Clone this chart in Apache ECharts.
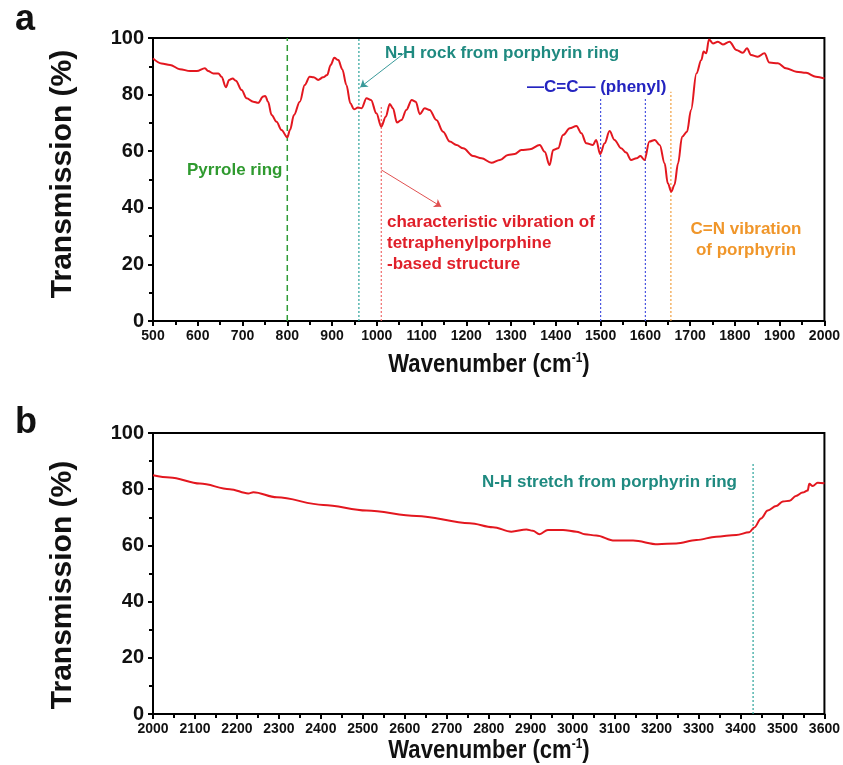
<!DOCTYPE html>
<html>
<head>
<meta charset="utf-8">
<script src="https://cdn.jsdelivr.net/npm/echarts@6/dist/echarts.min.js"></script>
<style>
  html, body { margin: 0; padding: 0; background: #fff; }
  #chart { width: 843px; height: 765px; }
</style>
</head>
<body>
<div id="chart"></div>
<script>
// panel a: FTIR 500-2000 cm-1
const waveA = [500, 519, 538, 560, 583, 598, 616, 623, 635, 646, 653, 663, 670, 678, 685, 698, 709, 724, 735, 746,
  751, 757, 765, 776, 787, 800, 806, 815, 828, 839, 850, 859, 869, 880, 889, 897, 905, 914, 923, 932,
  941, 949, 958, 966, 977, 987, 999, 1010, 1020, 1029, 1036, 1045, 1055, 1066, 1078, 1087, 1096, 1107, 1118, 1133,
  1148, 1163, 1178, 1193, 1215, 1234, 1256, 1275, 1293, 1308, 1323, 1342, 1364, 1375, 1386, 1394, 1405, 1416, 1431, 1446,
  1457, 1468, 1483, 1490, 1499, 1509, 1520, 1531, 1546, 1557, 1568, 1580, 1589, 1598, 1609, 1621, 1632, 1643, 1650, 1658,
  1665, 1673, 1682, 1693, 1702, 1714, 1725, 1730, 1736, 1742, 1751, 1762, 1773, 1788, 1803, 1818, 1827, 1836, 1851, 1866,
  1877, 1896, 1914, 1937, 1959, 1981, 2000];
const transA = [92.8, 91, 90.5, 89, 88.3, 88.3, 89.3, 88.3, 87.5, 87.5, 86.3, 82.6, 85.2, 85.7, 84.9, 81.6, 78.7, 77.5, 77.1, 79.3,
  79.5, 77.5, 72.8, 70.4, 67.5, 64.9, 67.5, 72.8, 77.5, 83.4, 86.3, 86.1, 85.2, 86.1, 86.9, 90.5, 93, 92.2, 88.9, 83.4,
  76.9, 74.8, 75.4, 75.2, 78.7, 78.1, 73.4, 68.7, 72.2, 76.7, 75.2, 70.1, 71, 74.6, 78.1, 77.5, 73.1, 75.2, 74.6, 71,
  66.9, 63.4, 62.2, 61, 58.3, 57.5, 55.9, 56.9, 58.7, 59, 60.4, 60.7, 62.2, 59.8, 55.1, 60.4, 61, 65.7, 68.1, 68.9,
  66.3, 62.8, 62.2, 64, 59, 62.8, 67.1, 64, 61, 59.5, 56.9, 57.5, 58.3, 56.9, 63.4, 64, 62.2, 55.7, 48.7, 45.7,
  48.1, 55.7, 65.1, 66.9, 74.6, 87.5, 92.2, 95.2, 94.6, 99.5, 98.1, 98.7, 97.7, 98.7, 95.8, 94.8, 96.4, 94, 93.4, 94.6,
  91.3, 91.1, 89.3, 88.1, 87.7, 86.3, 85.7];

// panel b: FTIR 2000-3600 cm-1
const waveB = [2000, 2040, 2112, 2183, 2227, 2239, 2295, 2406, 2509, 2628, 2755, 2810, 2854, 2890, 2905, 2921, 2941, 2977, 3009, 3029,
  3056, 3100, 3144, 3203, 3247, 3295, 3342, 3390, 3421, 3433, 3449, 3465, 3485, 3501, 3517, 3532, 3548, 3560, 3564, 3572,
  3584, 3600];
const transB = [85, 84.2, 82, 80, 78.5, 78.9, 77.1, 74.4, 72.4, 70.5, 67.9, 66.5, 64.9, 65.7, 65.2, 64, 65.5, 65.5, 64.9, 64,
  63.5, 61.7, 61.7, 60.4, 60.7, 61.9, 63.1, 63.7, 64.7, 66.4, 69.6, 72.4, 74, 75.6, 75.9, 77.6, 78.8, 79.5, 81.9, 81.1,
  82.3, 82.1];

// guide lines (wavenumber, top of line in %)
const guideWaveA = [800, 960, 1010, 1500, 1600, 1657];
const guideTopA = [100, 100, 76, 79, 79, 81];
const guideColorA = ['#2e9b36', '#2aa39a', '#f06a6a', '#4a55e0', '#4a55e0', '#f0a040'];
const guideWaveB = [3430];
const guideTopB = [89];
const guideColorB = ['#2aa39a'];

const yTicks = [0, 20, 40, 60, 80, 100];

const RED = '#e3171f';
const TEAL = '#1f8a80';

const chart = echarts.init(document.getElementById('chart'));

function pairs(xs, ys) { return xs.map((x, i) => [x, ys[i]]); }

// each guide line is its own tiny series so its colour is exact
function guideSeries(waves, tops, colors, axisIdx, firstDashed) {
  return waves.map((w, i) => {
    const dashed = firstDashed && i === 0;
    return {
      type: 'line', xAxisIndex: axisIdx, yAxisIndex: axisIdx, silent: true, z: 2,
      data: [[w, 0], [w, tops[i]]], showSymbol: false, symbol: 'none',
      lineStyle: { color: colors[i], width: dashed ? 1.5 : 1.2, type: dashed ? [6, 4] : [2, 2] }
    };
  });
}

const axisX = (idx, min, max) => ({
  type: 'value', gridIndex: idx, min: min, max: max, interval: 100,
  axisLine: { onZero: false, lineStyle: { color: '#000', width: 2 } },
  axisTick: { length: 5, lineStyle: { color: '#000', width: 2 } },
  minorTick: { show: true, splitNumber: 2, length: 4, lineStyle: { color: '#000', width: 2 } },
  splitLine: { show: false },
  axisLabel: { color: '#111', fontSize: 14, fontWeight: 'bold', fontFamily: 'Liberation Sans', margin: 8,
    formatter: v => String(v) }
});
const axisY = (idx) => ({
  type: 'value', gridIndex: idx, min: 0, max: 100, interval: 20,
  axisLine: { lineStyle: { color: '#000', width: 2 } },
  axisTick: { length: 5, lineStyle: { color: '#000', width: 2 } },
  minorTick: { show: true, splitNumber: 2, length: 4, lineStyle: { color: '#000', width: 2 } },
  splitLine: { show: false },
  axisLabel: { color: '#111', fontSize: 20, fontWeight: 'bold', fontFamily: 'Liberation Sans', margin: 9,
    formatter: v => yTicks.includes(v) ? String(v) : '' }
});

const txt = (x, y, text, color, extra) => ({
  type: 'text', x: x, y: y, silent: true,
  style: Object.assign({ text: text, fill: color, font: 'bold 17px "Liberation Sans", Arial', textVerticalAlign: 'middle' }, extra || {})
});

const xTitle = (y) => ({
  type: 'text', x: 489, y: y, scaleX: 0.85, silent: true,
  style: {
    text: 'Wavenumber (cm{sup|-1})', fill: '#111',
    font: 'bold 26px "Liberation Sans", Arial',
    textAlign: 'center', textVerticalAlign: 'middle',
    rich: { sup: { fontSize: 14, fontWeight: 'bold', fontFamily: 'Liberation Sans', padding: [0, 0, 13, 0] } }
  }
});
const yTitle = (y) => ({
  type: 'text', x: 63, y: y, rotation: Math.PI / 2, silent: true,
  style: { text: 'Transmission (%)', fill: '#111', font: 'bold 30px "Liberation Sans", Arial', textAlign: 'center', textVerticalAlign: 'middle' }
});

chart.setOption({
  animation: false,
  grid: [
    { left: 153, top: 38, right: 18, height: 283, show: true, borderColor: '#000', borderWidth: 2, backgroundColor: 'transparent' },
    { left: 153, top: 433, right: 18, height: 281, show: true, borderColor: '#000', borderWidth: 2, backgroundColor: 'transparent' }
  ],
  xAxis: [axisX(0, 500, 2000), axisX(1, 2000, 3600)],
  yAxis: [axisY(0), axisY(1)],
  series: [
    {
      type: 'line', xAxisIndex: 0, yAxisIndex: 0, data: pairs(waveA, transA),
      showSymbol: false, smooth: 0.35, smoothMonotone: 'x',
      lineStyle: { color: RED, width: 2 }, z: 3,
      markLine: {
        silent: true, symbol: ['none', 'none'], label: { show: false }, z: 2,
        data: [
          [{ coord: [1062, 94.7], lineStyle: { color: '#3a9a9a', width: 1, type: 'solid' } },
           { coord: [963, 82.6], symbol: 'arrow', symbolSize: 7 }],
          [{ coord: [1010, 53.4], lineStyle: { color: '#e05050', width: 1, type: 'solid' } },
           { coord: [1144, 40.4], symbol: 'arrow', symbolSize: 7 }]
        ]
      }
    },
    {
      type: 'line', xAxisIndex: 1, yAxisIndex: 1, data: pairs(waveB, transB),
      showSymbol: false, smooth: 0.35, smoothMonotone: 'x',
      lineStyle: { color: RED, width: 2 }, z: 3
    }
  ].concat(guideSeries(guideWaveA, guideTopA, guideColorA, 0, true))
   .concat(guideSeries(guideWaveB, guideTopB, guideColorB, 1, false)),
  graphic: [
    { type: 'text', x: 15, y: 38, silent: true, style: { text: 'a', fill: '#111', font: 'bold 36px "Liberation Sans", Arial', textVerticalAlign: 'bottom' } },
    { type: 'text', x: 15, y: 441, silent: true, style: { text: 'b', fill: '#111', font: 'bold 36px "Liberation Sans", Arial', textVerticalAlign: 'bottom' } },
    yTitle(174), yTitle(585),
    xTitle(365), xTitle(751),
    txt(385, 53, 'N-H rock from porphyrin ring', TEAL),
    txt(527, 87, '\u2014C=C\u2014 (phenyl)', '#2424c0'),
    txt(187, 170, 'Pyrrole ring', '#2f9a2f'),
    txt(387, 222, 'characteristic vibration of', '#e0202a'),
    txt(387, 243, 'tetraphenylporphine', '#e0202a'),
    txt(387, 264, '-based structure', '#e0202a'),
    txt(746, 229, 'C=N vibration', '#f0962a', { textAlign: 'center' }),
    txt(746, 250, 'of porphyrin', '#f0962a', { textAlign: 'center' }),
    txt(482, 482, 'N-H stretch from porphyrin ring', TEAL)
  ]
});
</script>
</body>
</html>
